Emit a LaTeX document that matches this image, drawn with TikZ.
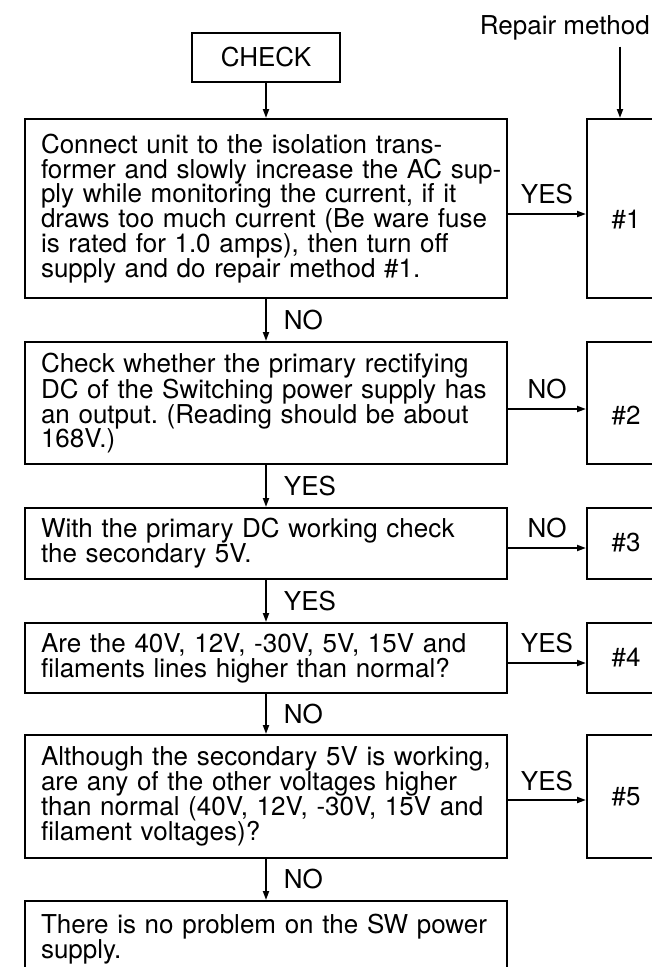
\documentclass[tikz,border=0pt]{standalone}
\usepackage{fontspec}
\setmainfont{TeX Gyre Heros}
\usetikzlibrary{arrows.meta}
\newcommand\tline[1]{\makebox[0pt][l]{#1}}
\frenchspacing
\begin{document}
\begin{tikzpicture}[x=1pt,y=-1pt,
  every node/.style={font=\fontsize{26}{24.8}\selectfont},
  box/.style={draw, line width=2pt, anchor=north west, text width=450pt,
    inner xsep=16pt, inner ysep=0pt, align=left},
  rbox/.style={draw, line width=2pt, anchor=north west, minimum width=84pt, inner sep=0pt},
  lbl/.style={inner sep=2pt},
  arr/.style={line width=1.9pt, -{Triangle[length=9pt,width=6pt]}}
]
\useasboundingbox (0,0) rectangle (652,967);
\clip (0,0) rectangle (652,967);

% top
\node[lbl, anchor=east] (rm) at (652,28) {Repair method};
\node[draw, line width=2pt, minimum width=148pt, minimum height=49pt, inner sep=0pt] (chk) at (266,57.5) {CHECK};

% main boxes
\node[box, minimum height=179pt] (b1) at (24,118) {\tline{Connect unit to the isolation trans-}\\
\tline{former and slowly increase the AC sup-}\\
\tline{ply while monitoring the current, if it}\\
\tline{draws too much current (Be ware fuse}\\
\tline{is rated for 1.0 amps), then turn off}\\
\tline{supply and do repair method \#1.}};
\node[box, minimum height=122pt] (b2) at (24,341) {\tline{Check whether the primary rectifying}\\
\tline{DC of the Switching power supply has}\\
\tline{an output. (Reading should be about}\\
\tline{168V.)}};
\node[box, minimum height=71pt] (b3) at (24,507) {\tline{With the primary DC working check}\\
\tline{the secondary 5V.}};
\node[box, minimum height=70pt] (b4) at (24,622) {\tline{Are the 40V, 12V, -30V, 5V, 15V and}\\
\tline{filaments lines higher than normal?}};
\node[box, minimum height=123pt] (b5) at (24,734) {\tline{Although the secondary 5V is working,}\\
\tline{are any of the other voltages higher}\\
\tline{than normal (40V, 12V, -30V, 15V and}\\
\tline{filament voltages)?}};
\node[box, inner ysep=13pt] (b6) at (24,900) {\tline{There is no problem on the SW power}\\
\tline{supply.}\\ ~};

% repair boxes
\node[rbox, minimum height=179pt] (r1) at (586,118) {};
\node[rbox, minimum height=122pt] (r2) at (586,341) {};
\node[rbox, minimum height=71pt] (r3) at (586,507) {};
\node[rbox, minimum height=70pt] (r4) at (586,622) {};
\node[rbox, minimum height=123pt] (r5) at (586,734) {};
\node[lbl] (n1) at (626,220) {\#1};
\node[lbl] (n2) at (626,416) {\#2};
\node[lbl] (n3) at (626,543) {\#3};
\node[lbl] (n4) at (626,658) {\#4};
\node[lbl] (n5) at (626,797) {\#5};

% vertical connectors
\coordinate (rmx) at (620,0);
\draw[arr, shorten <=4pt] (rm.south -| rmx) -- (r1.north -| rmx);
\draw[arr] (chk.south) -- (b1.north -| chk.south);
\draw[arr] (b1.south) -- node[lbl, right=15pt] {NO} (b2.north);
\draw[arr] (b2.south) -- node[lbl, right=15pt] {YES} (b3.north);
\draw[arr] (b3.south) -- node[lbl, right=15pt] {YES} (b4.north);
\draw[arr] (b4.south) -- node[lbl, right=15pt] {NO} (b5.north);
\draw[arr] (b5.south) -- node[lbl, right=15pt] {NO} (b6.north);

% horizontal connectors
\draw[arr] ([yshift=-5.5pt]b1.east) -- node[lbl, above=7pt] {YES} ([yshift=-5.5pt]b1.east -| r1.west);
\draw[arr] ([yshift=-6pt]b2.east) -- node[lbl, above=7pt] {NO} ([yshift=-6pt]b2.east -| r2.west);
\draw[arr] ([yshift=-4.5pt]b3.east) -- node[lbl, above=7pt] {NO} ([yshift=-4.5pt]b3.east -| r3.west);
\draw[arr] ([yshift=-5pt]b4.east) -- node[lbl, above=7pt] {YES} ([yshift=-5pt]b4.east -| r4.west);
\draw[arr] ([yshift=-3.5pt]b5.east) -- node[lbl, above=6pt] {YES} ([yshift=-3.5pt]b5.east -| r5.west);
\end{tikzpicture}
\end{document}
